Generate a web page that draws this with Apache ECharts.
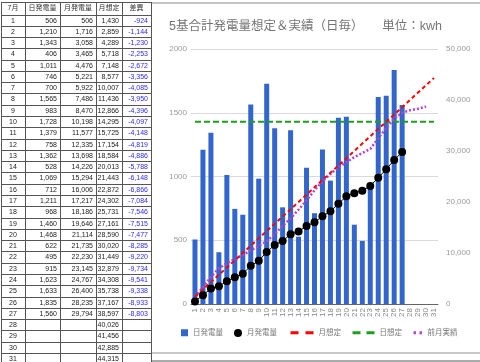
<!DOCTYPE html>
<html>
<head>
<meta charset="utf-8">
<script src="https://cdn.jsdelivr.net/npm/echarts@6/dist/echarts.min.js"></script>
<style>
html,body{margin:0;padding:0;background:#fff;}
#wrap{position:relative;width:480px;height:362px;overflow:hidden;}
#chart{position:absolute;left:0;top:0;width:480px;height:362px;}
#tbl{position:absolute;left:0;top:0;width:160px;height:362px;font-family:"Liberation Sans",Arial,"Noto Sans CJK JP",sans-serif;}
.c{position:absolute;box-sizing:border-box;font-size:7px;color:#222;white-space:nowrap;overflow:hidden;}
.hl{position:absolute;height:1px;background:#555;}
.vl{position:absolute;width:1px;background:#555;}
.pl{position:absolute;background:#c4c4c4;}
</style>
</head>
<body>
<div id="wrap">
<div id="chart"></div>
<div id="tbl"></div>
<div class="pl" style="left:152px;top:2px;width:328px;height:2px;"></div>
<div class="pl" style="left:152px;top:352px;width:328px;height:2px;background:#c8c8c8"></div>
<div class="pl" style="left:152px;top:360px;width:328px;height:2px;background:#aaa"></div>
</div>
<script>
// ---- data ----
const headers = ['7月', '日発電量', '月発電量', '月想定', '差異'];
const days = ['1','2','3','4','5','6','7','8','9','10','11','12','13','14','15','16','17','18','19','20','21','22','23','24','25','26','27','28','29','30','31'];
const daily = [506,1210,1343,406,1011,746,700,1565,983,1728,1379,758,1362,528,1069,712,1211,968,1460,1468,622,495,915,1623,1633,1835,1560];
const cumulative = [506,1716,3058,3465,4476,5221,5922,7486,8470,10198,11577,12335,13698,14226,15294,16006,17217,18186,19646,21114,21735,22230,23145,24767,26400,28235,29794];
const monthPlan = [1430,2859,4289,5718,7148,8577,10007,11436,12866,14295,15725,17154,18584,20013,21443,22872,24302,25731,27161,28590,30020,31449,32879,34308,35738,37167,38597,40026,41456,42885,44315];
const diffs = [-924,-1144,-1230,-2253,-2672,-3356,-4085,-3950,-4396,-4097,-4148,-4819,-4886,-5788,-6148,-6866,-7084,-7546,-7515,-7477,-8285,-9220,-9734,-9541,-9338,-8933,-8803];
const dailyPlan = [1430,1430,1430,1430,1430,1430,1430,1430,1430,1430,1430,1430,1430,1430,1430,1430,1430,1430,1430,1430,1430,1430,1430,1430,1430,1430,1430,1430,1430,1430,1430];
const prevMonth = [1400,3300,5300,7000,8000,8800,9600,10500,11400,12300,13700,15300,16800,18500,20300,22300,24000,25500,26800,27800,28800,29600,30400,32500,34500,36300,37500,38000,38300,38700];
const leftTicks = [0, 500, 1000, 1500, 2000];
const rightTicks = [0, 10000, 20000, 30000, 40000, 50000];
const titleText = '5基合計発電量想定＆実績（日毎）　　単位：kwh';

// ---- table ----
const fmt = v => v.toLocaleString('en-US');
const tbl = document.getElementById('tbl');
const colX = [1, 25, 60, 96, 122, 151];
const headTop = 2, headH = 12.5, rowH = 11.28;
function cell(txt, c, top, h, align, color) {
  const d = document.createElement('div');
  d.className = 'c';
  d.style.left = colX[c] + 'px';
  d.style.top = top + 'px';
  d.style.width = (colX[c + 1] - colX[c]) + 'px';
  d.style.height = h + 'px';
  d.style.lineHeight = h + 'px';
  d.style.textAlign = align;
  d.style.padding = align === 'right' ? '0 3px 0 0' : '0';
  if (color) d.style.color = color;
  d.textContent = txt;
  tbl.appendChild(d);
}
headers.forEach((h, c) => cell(h, c, headTop, headH, 'center', '#333'));
for (let i = 0; i < days.length; i++) {
  const top = headTop + headH + i * rowH;
  cell(days[i], 0, top, rowH, 'center');
  if (i < daily.length) cell(fmt(daily[i]), 1, top, rowH, 'right');
  if (i < cumulative.length) cell(fmt(cumulative[i]), 2, top, rowH, 'right');
  cell(fmt(monthPlan[i]), 3, top, rowH, 'right');
  if (i < diffs.length) cell(fmt(diffs[i]), 4, top, rowH, 'right', '#2b2bff');
}
const bottom = headTop + headH + days.length * rowH;
for (let r = 0; r <= days.length + 1; r++) {
  const y = r === 0 ? headTop : headTop + headH + (r - 1) * rowH;
  const l = document.createElement('div');
  l.className = 'hl';
  l.style.left = colX[0] + 'px'; l.style.top = Math.round(y) + 'px';
  l.style.width = (colX[5] - colX[0]) + 'px';
  tbl.appendChild(l);
}
colX.forEach(x => {
  const l = document.createElement('div');
  l.className = 'vl';
  l.style.left = x + 'px'; l.style.top = headTop + 'px';
  l.style.height = (bottom - headTop) + 'px';
  tbl.appendChild(l);
});

// ---- chart ----
const FONT = '"Liberation Sans", Arial, "Noto Sans CJK JP", sans-serif';
const chart = echarts.init(document.getElementById('chart'), null, {renderer: 'canvas'});
const legendBase = {top: 329, padding: 0, itemHeight: 8, textStyle: {fontSize: 7.5, color: '#777', fontFamily: FONT}, selectedMode: false};
const noSym = {opacity: 0};
chart.setOption({
  animation: false,
  textStyle: {fontFamily: FONT},
  title: {text: titleText, left: 169, top: 20, padding: 0,
    textStyle: {fontSize: 12.5, color: '#757575', fontWeight: 'normal', fontFamily: FONT}},
  grid: {left: 191, top: 49, width: 247, height: 255},
  legend: [
    Object.assign({}, legendBase, {left: 181, itemWidth: 7, itemHeight: 7, data: [{name: '日発電量', icon: 'rect'}]}),
    Object.assign({}, legendBase, {left: 234, itemWidth: 8, data: [{name: '月発電量', icon: 'circle'}]}),
    Object.assign({}, legendBase, {left: 289, itemWidth: 23, data: [{name: '月想定', itemStyle: noSym, lineStyle: {type: [8, 7], width: 3}}]}),
    Object.assign({}, legendBase, {left: 351, itemWidth: 22, data: [{name: '日想定', itemStyle: noSym, lineStyle: {type: [8, 6], width: 3}}]}),
    Object.assign({}, legendBase, {left: 412, itemWidth: 9, data: [{name: '前月実績', itemStyle: noSym, lineStyle: {type: [2.5, 3.5], width: 3}}]})
  ],
  xAxis: {
    type: 'category', data: days, boundaryGap: true,
    axisLine: {lineStyle: {color: '#666', width: 1}},
    axisTick: {show: false},
    axisLabel: {interval: 0, rotate: 90, fontSize: 8, color: '#888', margin: 4, fontFamily: FONT}
  },
  yAxis: [
    {type: 'value', min: leftTicks[0], max: leftTicks[leftTicks.length - 1], interval: leftTicks[1] - leftTicks[0],
      axisLine: {show: false}, axisTick: {show: false},
      splitLine: {lineStyle: {color: '#d9d9d9'}},
      axisLabel: {fontSize: 8, color: '#999', margin: 4, fontFamily: FONT, formatter: v => String(v)}},
    {type: 'value', min: rightTicks[0], max: rightTicks[rightTicks.length - 1], interval: rightTicks[1] - rightTicks[0],
      axisLine: {show: false}, axisTick: {show: false}, splitLine: {show: false},
      axisLabel: {fontSize: 8, color: '#999', margin: 8, fontFamily: FONT, formatter: v => fmt(v)}}
  ],
  series: [
    {name: '日発電量', type: 'bar', data: daily, barWidth: 5, itemStyle: {color: '#3366cc'}, z: 1},
    {name: '日想定', type: 'line', data: dailyPlan, yAxisIndex: 0, symbol: 'none',
      lineStyle: {color: '#1e9e1e', width: 2, type: [6, 3]}, itemStyle: {color: '#1e9e1e'}, z: 3},
    {name: '前月実績', type: 'line', data: prevMonth, yAxisIndex: 1, symbol: 'none',
      lineStyle: {color: '#b444d0', width: 2.5, type: [2, 2]}, itemStyle: {color: '#b444d0'}, z: 4},
    {name: '月想定', type: 'line', data: monthPlan, yAxisIndex: 1, symbol: 'none',
      lineStyle: {color: '#ff0000', width: 2, type: [4, 3]}, itemStyle: {color: '#ff0000'}, z: 5},
    {name: '月発電量', type: 'line', data: cumulative, yAxisIndex: 1, symbol: 'circle', symbolSize: 8,
      lineStyle: {color: '#000', width: 1}, itemStyle: {color: '#000'}, z: 6}
  ]
});
</script>
</body>
</html>
